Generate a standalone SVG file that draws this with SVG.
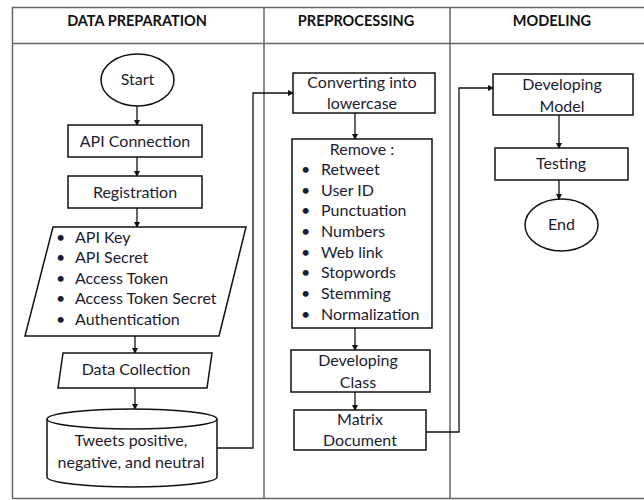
<svg xmlns="http://www.w3.org/2000/svg" width="644" height="500" viewBox="0 0 644 500">
<defs>
<marker id="ah" markerWidth="6" markerHeight="6" refX="5" refY="3" orient="auto" markerUnits="userSpaceOnUse">
<path d="M0,0 L6,3 L0,6 z" fill="#111"/>
</marker>
<style>
.frame{fill:none;stroke:#666;stroke-width:1.5}
.shape{fill:#fff;stroke:#111;stroke-width:1.5}
.t{font-family:Lato,"Liberation Sans",sans-serif;font-size:16px;fill:#1c1c30}
.c{text-anchor:middle}
.h{font-family:Lato,"Liberation Sans",sans-serif;font-size:14.5px;font-weight:bold;fill:#111;text-anchor:middle}
.conn{fill:none;stroke:#111;stroke-width:1.3}
</style>
</defs>
<rect width="644" height="500" fill="#fff"/>
<g id="frame">
<path class="frame" d="M12.5,499 V7.5 H644 M12.5,43.5 H644 M264,7.5 V499 M450,7.5 V499 M12.5,498.5 H644"/>
<text class="h" x="137" y="26">DATA PREPARATION</text>
<text class="h" x="356" y="26">PREPROCESSING</text>
<text class="h" x="552" y="26">MODELING</text>
</g>
<g id="connectors">
<path class="conn" marker-end="url(#ah)" d="M137,106 V125"/>
<path class="conn" marker-end="url(#ah)" d="M137,157 V176"/>
<path class="conn" marker-end="url(#ah)" d="M137,208 V227"/>
<path class="conn" marker-end="url(#ah)" d="M135,336 V353"/>
<path class="conn" marker-end="url(#ah)" d="M135,388 V409"/>
<path class="conn" marker-end="url(#ah)" d="M217,448 H253 V93 H293"/>
<path class="conn" marker-end="url(#ah)" d="M355,113 V139"/>
<path class="conn" marker-end="url(#ah)" d="M355,328 V350"/>
<path class="conn" marker-end="url(#ah)" d="M355,392 V410"/>
<path class="conn" marker-end="url(#ah)" d="M426,432 H459 V88 H493"/>
<path class="conn" marker-end="url(#ah)" d="M559,115 V148"/>
<path class="conn" marker-end="url(#ah)" d="M559,180 V199"/>
</g>
<g id="start">
<ellipse class="shape" cx="137.5" cy="80" rx="36.5" ry="26"/>
<text class="t c" x="137.5" y="85">Start</text>
</g>
<g id="api-connection">
<rect class="shape" x="68" y="125" width="134" height="32"/>
<text class="t c" x="135" y="147">API Connection</text>
</g>
<g id="registration">
<rect class="shape" x="68" y="176" width="134" height="32"/>
<text class="t c" x="135" y="198">Registration</text>
</g>
<g id="credentials">
<polygon class="shape" points="53,227 246,227 219,336 25,336"/>
<text class="t" x="56" y="243">•</text><text class="t" x="75" y="243">API Key</text>
<text class="t" x="56" y="263">•</text><text class="t" x="75" y="263">API Secret</text>
<text class="t" x="56" y="284">•</text><text class="t" x="75" y="284">Access Token</text>
<text class="t" x="56" y="304">•</text><text class="t" x="75" y="304">Access Token Secret</text>
<text class="t" x="56" y="325">•</text><text class="t" x="75" y="325">Authentication</text>
</g>
<g id="data-collection">
<polygon class="shape" points="63,353 212,353 207,388 58,388"/>
<text class="t c" x="136" y="375">Data Collection</text>
</g>
<g id="tweets">
<path class="shape" d="M47,419 A85,10 0 0 1 217,419 V477 A85,10 0 0 1 47,477 Z"/>
<path class="shape" fill="none" d="M47,419 A85,10 0 0 0 217,419"/>
<text class="t c" x="131" y="446">Tweets positive,</text>
<text class="t c" x="131" y="468">negative, and neutral</text>
</g>
<g id="lowercase">
<rect class="shape" x="293" y="73" width="142" height="40"/>
<text class="t c" x="362" y="88">Converting into</text>
<text class="t c" x="362" y="109">lowercase</text>
</g>
<g id="remove">
<rect class="shape" x="292" y="139" width="140" height="189"/>
<text class="t c" x="362" y="155">Remove :</text>
<text class="t" x="301" y="175">•</text><text class="t" x="321" y="175">Retweet</text>
<text class="t" x="301" y="196">•</text><text class="t" x="321" y="196">User ID</text>
<text class="t" x="301" y="216">•</text><text class="t" x="321" y="216">Punctuation</text>
<text class="t" x="301" y="237">•</text><text class="t" x="321" y="237">Numbers</text>
<text class="t" x="301" y="258">•</text><text class="t" x="321" y="258">Web link</text>
<text class="t" x="301" y="278">•</text><text class="t" x="321" y="278">Stopwords</text>
<text class="t" x="301" y="299">•</text><text class="t" x="321" y="299">Stemming</text>
<text class="t" x="301" y="320">•</text><text class="t" x="321" y="320">Normalization</text>
</g>
<g id="developing-class">
<rect class="shape" x="291" y="350" width="139" height="42"/>
<text class="t c" x="358" y="366">Developing</text>
<text class="t c" x="358" y="388">Class</text>
</g>
<g id="matrix-document">
<rect class="shape" x="294" y="410" width="132" height="40"/>
<text class="t c" x="360" y="425">Matrix</text>
<text class="t c" x="360" y="446">Document</text>
</g>
<g id="developing-model">
<rect class="shape" x="493" y="74" width="140" height="41"/>
<text class="t c" x="562" y="90">Developing</text>
<text class="t c" x="562" y="112">Model</text>
</g>
<g id="testing">
<rect class="shape" x="495" y="148" width="133" height="32"/>
<text class="t c" x="561" y="169">Testing</text>
</g>
<g id="end">
<ellipse class="shape" cx="561.5" cy="225" rx="36.5" ry="26"/>
<text class="t c" x="561.5" y="230">End</text>
</g>
</svg>
